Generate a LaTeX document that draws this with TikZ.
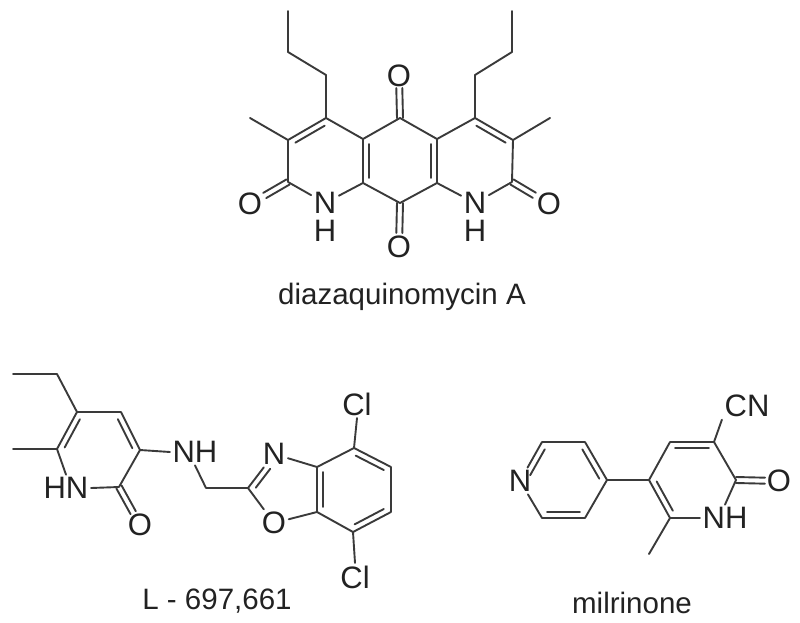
\documentclass[tikz,border=0pt]{standalone}
\usepackage{fontspec}
\setmainfont{Liberation Sans}
\usetikzlibrary{calc}
\definecolor{bondc}{HTML}{3A3A3A}
\definecolor{textc}{HTML}{222222}
\tikzset{
  bond/.style={draw=bondc,line width=1.9pt,line cap=round},
  innerbond/.style={bond,shorten >=5pt,shorten <=5pt},
  atom/.style={inner sep=2.5pt,text=textc,font=\fontsize{31}{36}\selectfont},
  caption/.style={inner sep=0pt,text=textc,font=\fontsize{29.5}{34}\selectfont}
}
% inner line of a ring double bond: ring interior lies to the left of a->b
\newcommand{\innerb}[2]{\draw[innerbond] ($(#1)!6pt!90:(#2)$) -- ($(#2)!6pt!-90:(#1)$);}
% carbonyl: two parallel lines from carbon #1 to oxygen #2, stopping #3 short of it
\newcommand{\carbonyl}[3]{%
  \draw[bond,shorten >=#3] ($(#1)!3pt!90:(#2)$) -- ($(#2)!3pt!-90:(#1)$);
  \draw[bond,shorten >=#3] ($(#1)!3pt!-90:(#2)$) -- ($(#2)!3pt!90:(#1)$);}
\begin{document}
\begin{tikzpicture}[x=1pt,y=-1pt]
\useasboundingbox (0,0) rectangle (800,623);
% ---------- diazaquinomycin A
\foreach \n/\x/\y in {pa/288/11,pb/288/52,pc/326/75,ca/326/118,cb/288/140,mea/250/118,cc/288/182,
  cd/363/183,ce/363/139,cf/400/118,cg/400/203,ch/437/139,ci/437/183,cj/475/118,
  qc/475/75,qb/512/52,qa/512/11,ck/513/140,meb/550/118,cl/512/182}
  {\coordinate (\n) at (\x,\y);}
\node[atom] (oa) at (250,204) {O};
\node[atom] (na) at (325,203) {N};
\node[atom] (ha) at (325,231) {H};
\node[atom] (ob) at (399,76) {O};
\node[atom] (oc) at (399,247) {O};
\node[atom] (nb) at (475,203) {N};
\node[atom] (hb) at (475,231) {H};
\node[atom] (od) at (549,204) {O};
\node[caption] (capa) at (402,297) {diazaquinomycin A};
\draw[bond,line join=round] (pa) -- (pb) -- (pc) -- (ca);
\draw[bond,line join=round] (qa) -- (qb) -- (qc) -- (cj);
\draw[bond] (ca) -- (cb) (cb) -- (mea) (cb) -- (cc) (cc) -- (na) (na) -- (cd) (cd) -- (ce) (ce) -- (ca)
  (ce) -- (cf) (cf) -- (ch) (ch) -- (ci) (ci) -- (cg) (cg) -- (cd)
  (ch) -- (cj) (cj) -- (ck) (ck) -- (meb) (ck) -- (cl) (cl) -- (nb) (nb) -- (ci);
\innerb{ca}{cb}
\innerb{ce}{cd}
\innerb{ci}{ch}
\innerb{ck}{cj}
\carbonyl{cc}{oa}{17pt}
\carbonyl{cf}{ob}{12pt}
\carbonyl{cg}{oc}{14pt}
\carbonyl{cl}{od}{17pt}
% ---------- L - 697,661
\foreach \n/\x/\y in {la/13/374,lb/57/374,lc/77/412,ld/121/412,le/140/450,lf/57/449,lg/13/449,lh/119/487,
  li/206/488,lj/248/488,lk/317/467,ll/317/512,lm/354/448,ln/391/467,lo/391/512,lp/353/532}
  {\coordinate (\n) at (\x,\y);}
\node[atom] (lnh) at (195,452) {NH};
\node[atom] (lhn) at (66,488) {HN};
\node[atom] (loa) at (140,525) {O};
\node[atom] (lnn) at (274,454) {N};
\node[atom] (loo) at (274,523) {O};
\node[atom] (lca) at (357,404) {Cl};
\node[atom] (lcb) at (355,577) {Cl};
\node[caption] (capb) at (217,601) {L - 697,661};
\draw[bond,line join=round] (la) -- (lb) -- (lc);
\draw[bond] (lc) -- (ld) (ld) -- (le) (le) -- (lh) (lh) -- (lhn.east) (lhn.north) -- (lf) (lf) -- (lc) (lf) -- (lg)
  (le) -- (lnh.west) (lnh.south) -- (li) (li) -- (lj) (lj) -- (lnn) (lnn) -- (lk) (lk) -- (ll) (ll) -- (loo) (loo) -- (lj)
  (lk) -- (lm) (lm) -- (ln) (ln) -- (lo) (lo) -- (lp) (lp) -- (ll) (lm) -- (lca.south) (lp) -- (lcb.north);
\innerb{lc}{lf}
\innerb{le}{ld}
\carbonyl{lh}{loa}{14pt}
\draw[bond,shorten >=14pt,shorten <=5pt] ($(lj)!6pt!-90:(lnn)$) -- ($(lnn)!6pt!90:(lj)$);
\innerb{lk}{ll}
\innerb{lp}{lo}
\innerb{ln}{lm}
% ---------- milrinone
\foreach \n/\x/\y in {ma/542/442,mb/585/442,mc/607/480,md/585/518,me/542/518,mf/649/480,mg/670/442,
  mh/714/442,mi/736/480,mj/670/518,mk/649/554}
  {\coordinate (\n) at (\x,\y);}
\node[atom] (mn) at (520,481) {N};
\node[atom] (mnh) at (725,518) {NH};
\node[atom] (mcn) at (747,406) {CN};
\node[atom] (mo) at (779,481) {O};
\node[caption] (capc) at (632,603) {milrinone};
\draw[bond] (mn) -- (ma) (ma) -- (mb) (mb) -- (mc) (mc) -- (md) (md) -- (me) (me) -- (mn) (mc) -- (mf)
  (mf) -- (mg) (mg) -- (mh) (mh) -- (mi) (mi) -- (mnh.north) (mnh.west) -- (mj) (mj) -- (mf) (mj) -- (mk)
  (mh) -- (mcn.south west);
\draw[innerbond,shorten >=10pt] ($(ma)!6pt!90:(mn)$) -- ($(mn)!6pt!-90:(ma)$);
\innerb{me}{md}
\innerb{mc}{mb}
\innerb{mh}{mg}
\innerb{mf}{mj}
\carbonyl{mi}{mo}{14pt}
\end{tikzpicture}
\end{document}
